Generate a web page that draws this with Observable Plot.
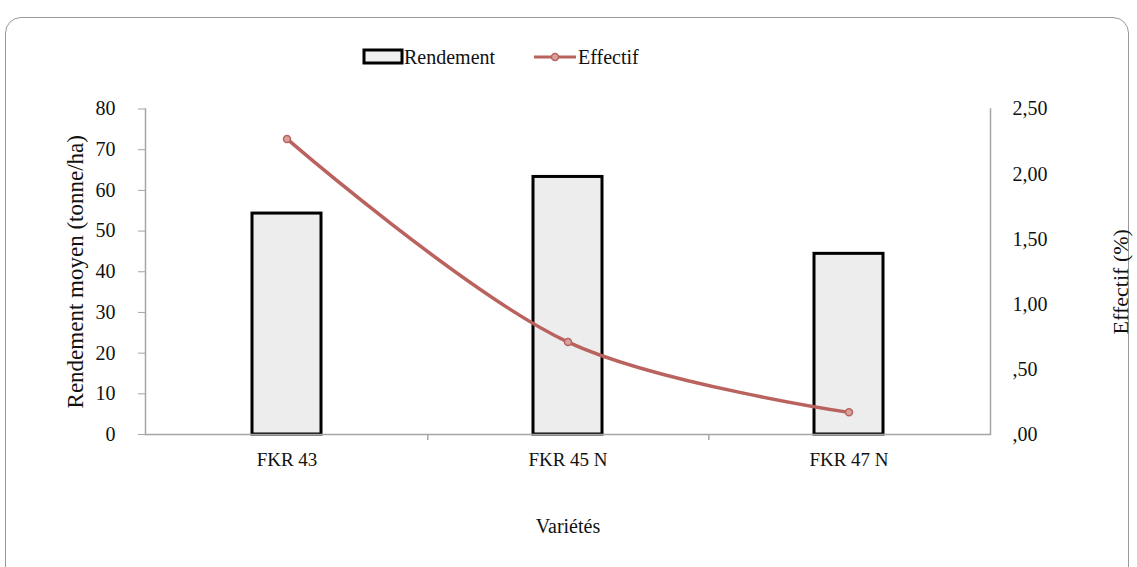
<!DOCTYPE html>
<html>
<head>
<meta charset="utf-8">
<script src="https://cdn.jsdelivr.net/npm/d3@7"></script>
<script src="https://cdn.jsdelivr.net/npm/@observablehq/plot@0.6"></script>
<style>
  html, body { margin: 0; padding: 0; background: #fff; }
  #wrap { position: relative; width: 1137px; height: 567px; overflow: hidden; font-family: "Liberation Serif", "DejaVu Serif", serif; }
  #frame { position: absolute; left: 5px; top: 17px; width: 1124px; height: 580px; border: 1.5px solid #9a9a9a; border-radius: 16px; box-sizing: border-box; }
  #legend { position: absolute; left: 0; top: 0; width: 1137px; height: 70px; }
  #legend .item { position: absolute; top: 45px; font-size: 20px; line-height: 24px; color: #111; }
  #chart { position: absolute; left: 0; top: 70px; }
</style>
</head>
<body>
<div id="wrap">
  <div id="frame"></div>
  <div id="legend">
    <svg width="1137" height="70" style="position:absolute;left:0;top:0">
      <rect x="364" y="50" width="38" height="13" fill="#f0f0f0" stroke="#000" stroke-width="3"></rect>
      <line x1="534" x2="576" y1="57" y2="57" stroke="#b9625e" stroke-width="3"></line>
      <circle cx="555" cy="57" r="3.5" fill="#d8a19c" stroke="#b9625e" stroke-width="1.5"></circle>
    </svg>
    <span class="item" style="left:404px">Rendement</span>
    <span class="item" style="left:578px">Effectif</span>
  </div>
  <div id="chart"></div>
</div>
<script>
const varietes = ["FKR 43", "FKR 45 N", "FKR 47 N"];
const rendement = [54.3, 63.3, 44.4];
const effectif = [2.27, 0.71, 0.17];
const leftTicks = [0, 10, 20, 30, 40, 50, 60, 70, 80];
const rightTicks = [0, 0.5, 1, 1.5, 2, 2.5];

const ratio = 80 / 2.5;
const data = varietes.map((v, i) => ({v, r: rendement[i], e: effectif[i], ey: effectif[i] * ratio}));
const fmtRight = d => {
  const s = (d / ratio).toFixed(2).replace(".", ",");
  return s.startsWith("0") ? s.slice(1) : s;
};

const W = 1137, ML = 145, MR = 147;
const xOpts = {domain: varietes, paddingInner: 0.755, paddingOuter: 0.3775, label: null};
const step = Plot.scale({x: {type: "band", ...xOpts, range: [ML, W - MR]}}).step;

const axisColor = "#a5a5a5";
const lineColor = "#b9625e";

const chart = Plot.plot({
  width: W,
  height: 497,
  marginLeft: ML,
  marginRight: MR,
  marginTop: 38.5,
  marginBottom: 133,
  style: {fontFamily: "'Liberation Serif', serif", fontSize: "19px", color: "#111", background: "transparent", overflow: "visible"},
  x: xOpts,
  y: {domain: [0, 80], label: null},
  marks: [
    Plot.barY(data, {x: "v", y: "r", fill: "#ededed", stroke: "#000", strokeWidth: 3}),
    Plot.axisY(leftTicks, {anchor: "left", tickSize: 7, tickPadding: 23, stroke: axisColor, fontSize: 20, label: null}),
    Plot.axisY(rightTicks.map(d => d * ratio), {anchor: "right", tickSize: 0, tickPadding: 22, tickFormat: fmtRight, fontSize: 20, label: null}),
    Plot.axisX({tickSize: 0, tickPadding: 18, fontSize: 19, label: null}),
    Plot.ruleX(varietes.slice(0, 2), {x: d => d, y1: 0, y2: 0, insetBottom: -6, dx: step / 2, stroke: axisColor, strokeWidth: 1.5}),
    Plot.ruleY([0], {stroke: axisColor, strokeWidth: 1.5}),
    Plot.line(data, {x: "v", y: "ey", stroke: lineColor, strokeWidth: 3.5, curve: "catmull-rom"}),
    Plot.dot(data, {x: "v", y: "ey", r: 3.5, fill: "#d8a19c", stroke: lineColor, strokeWidth: 1.5}),
    Plot.frame({anchor: "left", stroke: axisColor, strokeWidth: 1.5}),
    Plot.frame({anchor: "right", stroke: axisColor, strokeWidth: 1.5}),
    Plot.text(["Variétés"], {frameAnchor: "bottom", dy: 98, fontSize: 20}),
    Plot.text(["Rendement moyen (tonne/ha)"], {frameAnchor: "left", textAnchor: "middle", dx: -70, rotate: -90, fontSize: 23}),
    Plot.text(["Effectif (%)"], {frameAnchor: "right", textAnchor: "middle", dx: 130, dy: 10, rotate: -90, fontSize: 22})
  ]
});
document.getElementById("chart").appendChild(chart);
</script>
</body>
</html>
